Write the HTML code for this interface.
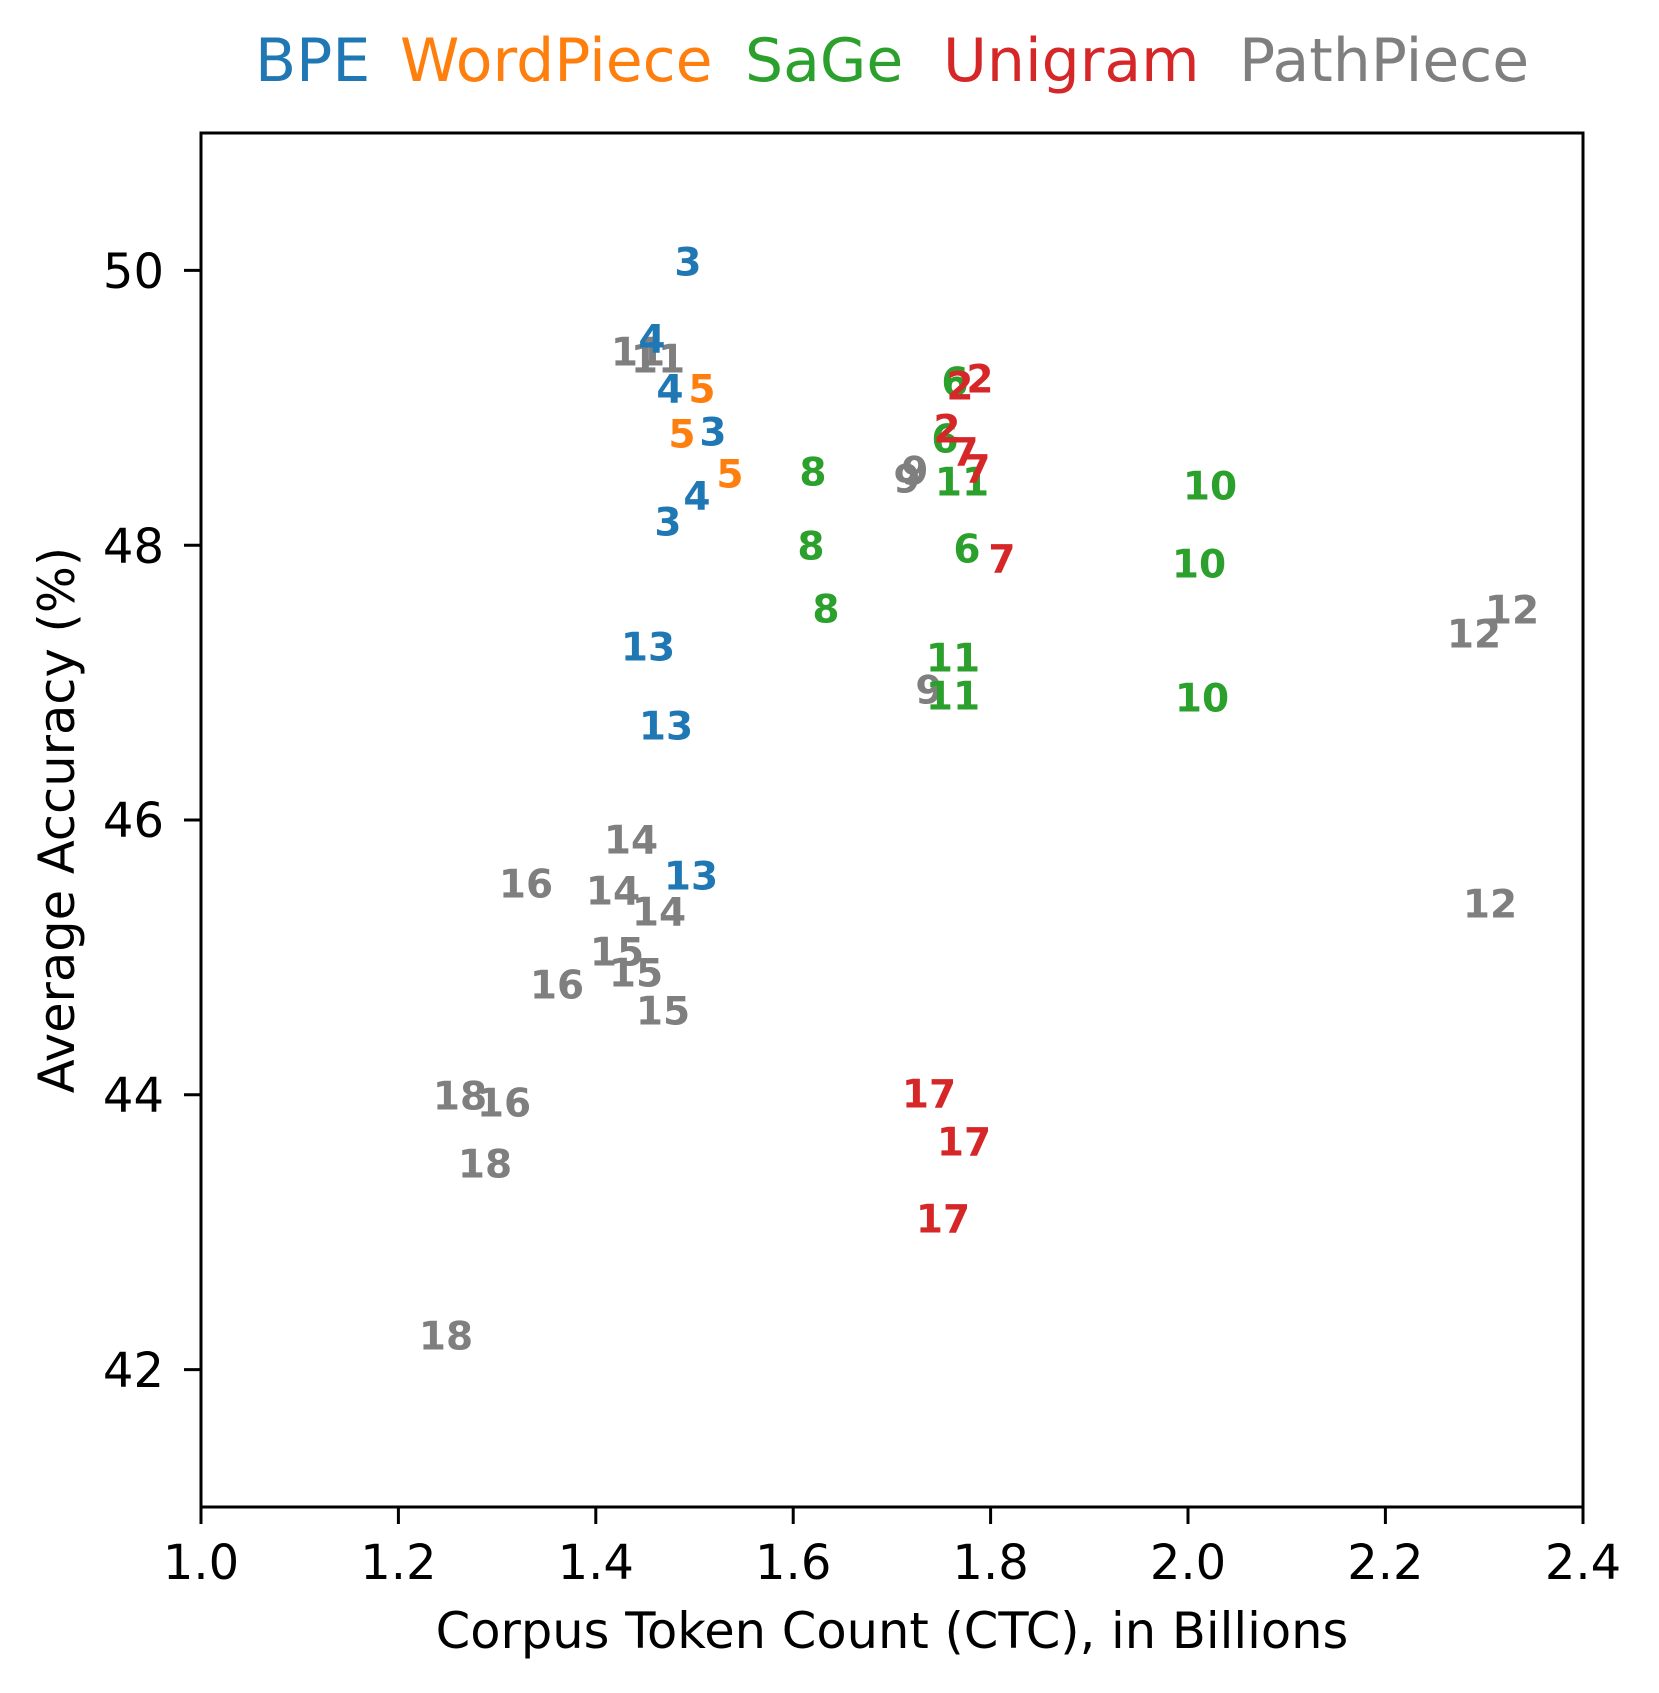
<!DOCTYPE html>
<html><head><meta charset="utf-8"><style>html,body{margin:0;padding:0;background:#fff}svg{display:block}</style></head>
<body>
<svg width="1659" height="1693" viewBox="0 0 1659 1693" xmlns="http://www.w3.org/2000/svg" font-family="'DejaVu Sans','Liberation Sans',sans-serif">
<rect width="1659" height="1693" fill="#fff"/>
<g font-size="60">
<text x="255" y="81" fill="#1f77b4">BPE</text>
<text x="400" y="81" fill="#ff7f0e">WordPiece</text>
<text x="745" y="81" fill="#2ca02c">SaGe</text>
<text x="943" y="81" fill="#d62728">Unigram</text>
<text x="1239" y="81" fill="#7f7f7f">PathPiece</text>
</g>
<rect x="201" y="133" width="1382" height="1374" fill="none" stroke="#000" stroke-width="3"/>
<g stroke="#000" stroke-width="3">
<line x1="201" y1="1507" x2="201" y2="1524"/><line x1="398.4" y1="1507" x2="398.4" y2="1524"/><line x1="595.8" y1="1507" x2="595.8" y2="1524"/><line x1="793.2" y1="1507" x2="793.2" y2="1524"/><line x1="990.6" y1="1507" x2="990.6" y2="1524"/><line x1="1188" y1="1507" x2="1188" y2="1524"/><line x1="1385.4" y1="1507" x2="1385.4" y2="1524"/><line x1="1583" y1="1507" x2="1583" y2="1524"/>
<line x1="184" y1="270.4" x2="201" y2="270.4"/><line x1="184" y1="545.2" x2="201" y2="545.2"/><line x1="184" y1="820" x2="201" y2="820"/><line x1="184" y1="1094.8" x2="201" y2="1094.8"/><line x1="184" y1="1369.6" x2="201" y2="1369.6"/>
</g>
<g font-size="48" text-anchor="middle">
<text x="201" y="1579">1.0</text><text x="398.4" y="1579">1.2</text><text x="595.8" y="1579">1.4</text><text x="793.2" y="1579">1.6</text><text x="990.6" y="1579">1.8</text><text x="1188" y="1579">2.0</text><text x="1385.4" y="1579">2.2</text><text x="1583" y="1579">2.4</text>
</g>
<g font-size="48" text-anchor="end">
<text x="164" y="288">50</text><text x="164" y="563">48</text><text x="164" y="837">46</text><text x="164" y="1112">44</text><text x="164" y="1387">42</text>
</g>
<text x="892" y="1648" font-size="49.5" text-anchor="middle">Corpus Token Count (CTC), in Billions</text>
<text transform="translate(74,820) rotate(-90)" font-size="49.5" text-anchor="middle">Average Accuracy (%)</text>
<g font-size="39" font-weight="bold" text-anchor="middle" dominant-baseline="central">
<g fill="#7f7f7f">
<text x="638" y="353">11</text><text x="658" y="360">11</text>
<text x="907" y="480">9</text><text x="915" y="472">9</text><text x="929" y="691">9</text>
<text x="1512" y="611">12</text><text x="1474" y="635">12</text><text x="1490" y="905">12</text>
<text x="631" y="841">14</text><text x="613" y="892">14</text><text x="659" y="913">14</text>
<text x="526" y="885">16</text><text x="557" y="986">16</text><text x="504" y="1104">16</text>
<text x="617" y="953">15</text><text x="636" y="974">15</text><text x="663" y="1012">15</text>
<text x="460" y="1097">18</text><text x="485" y="1165">18</text><text x="446" y="1337">18</text>
</g>
<g fill="#1f77b4">
<text x="688" y="263">3</text><text x="652" y="340">4</text><text x="670" y="390">4</text><text x="713" y="433">3</text><text x="697" y="497">4</text><text x="668" y="523">3</text>
<text x="648" y="648">13</text><text x="666" y="727">13</text><text x="691" y="877">13</text>
</g>
<g fill="#ff7f0e">
<text x="702" y="390">5</text><text x="682" y="435">5</text><text x="730" y="475">5</text>
</g>
<g fill="#2ca02c">
<text x="813" y="473">8</text><text x="811" y="547">8</text><text x="826" y="610">8</text>
<text x="955" y="383">6</text><text x="945" y="440">6</text><text x="967" y="550">6</text>
<text x="962" y="483">11</text><text x="953" y="659">11</text><text x="953" y="697">11</text>
<text x="1210" y="487">10</text><text x="1199" y="565">10</text><text x="1202" y="699">10</text>
</g>
<g fill="#d62728">
<text x="960" y="387">2</text><text x="980" y="380">2</text><text x="947" y="430">2</text>
<text x="965" y="453">7</text><text x="977" y="470">7</text><text x="1002" y="560">7</text>
<text x="929" y="1095">17</text><text x="964" y="1143">17</text><text x="943" y="1220">17</text>
</g>
</g>
</svg>
</body></html>
